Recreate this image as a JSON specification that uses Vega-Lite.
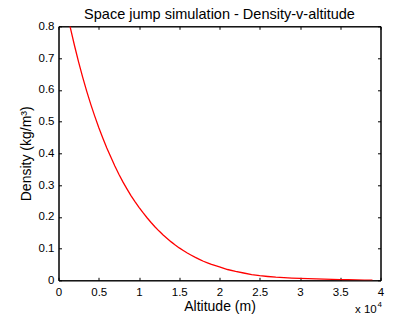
{
  "$schema": "https://vega.github.io/schema/vega-lite/v6.json",
  "width": 322,
  "height": 254,
  "autosize": "none",
  "padding": {"left": 58.5, "top": 26.3, "right": 12.5, "bottom": 42.7},
  "background": "white",
  "title": {"text": "Space jump simulation - Density-v-altitude", "font": "Liberation Sans", "fontSize": 14.5, "fontWeight": "normal", "color": "black", "anchor": "middle", "offset": 6, "dy": 8},
  "config": {
    "view": {"stroke": "black", "strokeWidth": 1},
    "axis": {"domainColor": "black", "domainWidth": 1, "tickColor": "black", "tickWidth": 1, "grid": false, "labelFont": "Liberation Sans", "labelFontSize": 11.5, "labelColor": "black", "titleFont": "Liberation Sans", "titleFontSize": 14, "titleFontWeight": "normal", "titleColor": "black"}
  },
  "datasets": {
    "curve": [
      {"altitude": 1430, "density": 0.800},
      {"altitude": 2000, "density": 0.738},
      {"altitude": 2500, "density": 0.687},
      {"altitude": 3000, "density": 0.640},
      {"altitude": 3500, "density": 0.596},
      {"altitude": 4000, "density": 0.555},
      {"altitude": 4500, "density": 0.517},
      {"altitude": 5000, "density": 0.481},
      {"altitude": 5500, "density": 0.448},
      {"altitude": 6000, "density": 0.417},
      {"altitude": 6500, "density": 0.388},
      {"altitude": 7000, "density": 0.360},
      {"altitude": 7500, "density": 0.334},
      {"altitude": 8000, "density": 0.310},
      {"altitude": 8500, "density": 0.288},
      {"altitude": 9000, "density": 0.267},
      {"altitude": 9500, "density": 0.248},
      {"altitude": 10000, "density": 0.230},
      {"altitude": 10500, "density": 0.213},
      {"altitude": 11000, "density": 0.197},
      {"altitude": 11500, "density": 0.182},
      {"altitude": 12000, "density": 0.168},
      {"altitude": 12500, "density": 0.155},
      {"altitude": 13000, "density": 0.143},
      {"altitude": 13500, "density": 0.132},
      {"altitude": 14000, "density": 0.121},
      {"altitude": 14500, "density": 0.111},
      {"altitude": 15000, "density": 0.102},
      {"altitude": 15500, "density": 0.094},
      {"altitude": 16000, "density": 0.086},
      {"altitude": 16500, "density": 0.079},
      {"altitude": 17000, "density": 0.072},
      {"altitude": 17500, "density": 0.066},
      {"altitude": 18000, "density": 0.060},
      {"altitude": 18500, "density": 0.055},
      {"altitude": 19000, "density": 0.050},
      {"altitude": 19500, "density": 0.046},
      {"altitude": 20000, "density": 0.042},
      {"altitude": 21000, "density": 0.034},
      {"altitude": 22000, "density": 0.028},
      {"altitude": 23000, "density": 0.023},
      {"altitude": 24000, "density": 0.018},
      {"altitude": 25000, "density": 0.0145},
      {"altitude": 26000, "density": 0.012},
      {"altitude": 27000, "density": 0.0098},
      {"altitude": 28000, "density": 0.0082},
      {"altitude": 29000, "density": 0.0070},
      {"altitude": 30000, "density": 0.0060},
      {"altitude": 31000, "density": 0.0051},
      {"altitude": 32000, "density": 0.0044},
      {"altitude": 33000, "density": 0.0037},
      {"altitude": 34000, "density": 0.0030},
      {"altitude": 35000, "density": 0.0024},
      {"altitude": 36000, "density": 0.0018},
      {"altitude": 37000, "density": 0.0012},
      {"altitude": 38000, "density": 0.0007},
      {"altitude": 39000, "density": 0.0003}
    ],
    "exponent": [{"altitude": 40000, "density": 0, "base": "x 10", "power": "4"}]
  },
  "layer": [
    {
      "data": {"name": "curve"},
      "mark": {"type": "line", "color": "red", "strokeWidth": 1.3, "clip": true},
      "encoding": {
        "x": {"field": "altitude", "type": "quantitative", "scale": {"domain": [0, 40000], "nice": false, "zero": false},
          "axis": {"orient": "bottom", "title": "Altitude (m)", "values": [0, 5000, 10000, 15000, 20000, 25000, 30000, 35000, 40000], "labelExpr": "datum.value / 10000 + ''", "tickSize": -3, "labelPadding": 9, "labelFlush": false, "labelOverlap": false, "titleY": 30.2, "titleBaseline": "alphabetic"}},
        "y": {"field": "density", "type": "quantitative", "scale": {"domain": [0, 0.8], "nice": false, "zero": false},
          "axis": {"orient": "left", "title": "Density (kg/m³)", "values": [0, 0.1, 0.2, 0.3, 0.4, 0.5, 0.6, 0.7, 0.8], "labelExpr": "datum.value + ''", "tickSize": -3, "labelPadding": 7.5, "labelFlush": false, "labelOverlap": false, "titleAngle": -90, "titleX": -28.5, "titleY": 127, "titleAlign": "center", "titleBaseline": "alphabetic"}}
      }
    },
    {
      "data": {"name": "curve"},
      "mark": {"type": "line", "opacity": 0},
      "encoding": {
        "x": {"field": "altitude", "type": "quantitative", "axis": {"orient": "top", "title": null, "labels": false, "values": [0, 5000, 10000, 15000, 20000, 25000, 30000, 35000, 40000], "tickSize": -3}},
        "y": {"field": "density", "type": "quantitative", "axis": {"orient": "right", "title": null, "labels": false, "values": [0, 0.1, 0.2, 0.3, 0.4, 0.5, 0.6, 0.7, 0.8], "tickSize": -3}}
      }
    },
    {
      "data": {"name": "exponent"},
      "mark": {"type": "text", "font": "Liberation Sans", "fontSize": 11.5, "align": "right", "baseline": "alphabetic", "dx": -3.8, "dy": 33, "color": "black"},
      "encoding": {
        "x": {"field": "altitude", "type": "quantitative", "axis": null},
        "y": {"field": "density", "type": "quantitative", "axis": null},
        "text": {"field": "base"}
      }
    },
    {
      "data": {"name": "exponent"},
      "mark": {"type": "text", "font": "Liberation Sans", "fontSize": 8, "align": "left", "baseline": "alphabetic", "dx": -3, "dy": 27, "color": "black"},
      "encoding": {
        "x": {"field": "altitude", "type": "quantitative", "axis": null},
        "y": {"field": "density", "type": "quantitative", "axis": null},
        "text": {"field": "power"}
      }
    }
  ],
  "resolve": {"axis": {"x": "independent", "y": "independent"}}
}
